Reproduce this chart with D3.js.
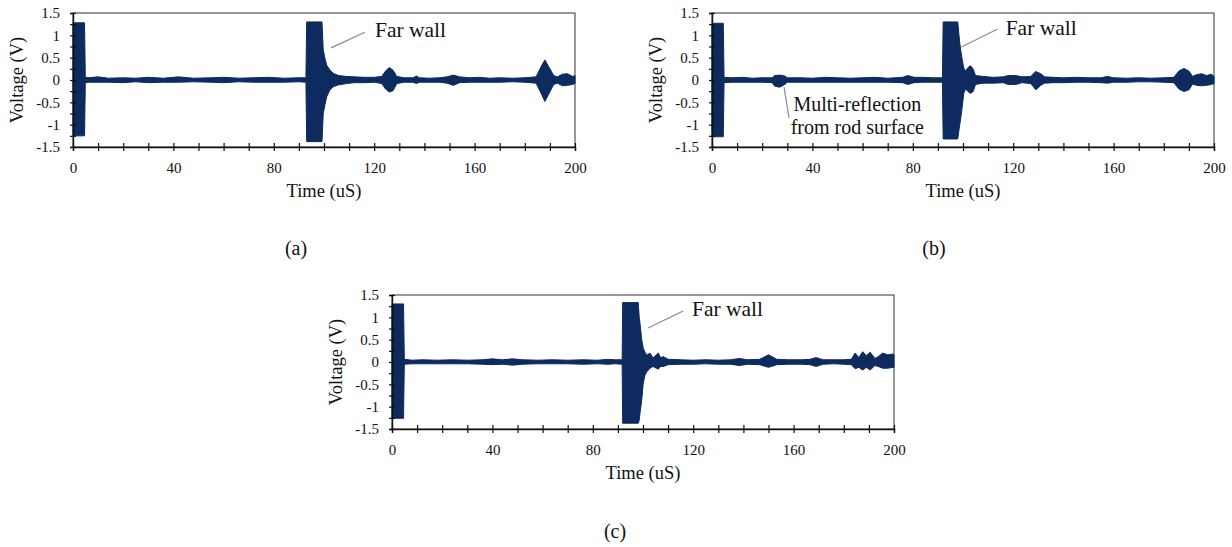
<!DOCTYPE html>
<html>
<head>
<meta charset="utf-8">
<script src="https://cdn.jsdelivr.net/npm/d3@7"></script>
<style>
  body { margin: 0; background: #fff; }
</style>
</head>
<body>
<svg id="fig" width="1232" height="547"></svg>
<script>
// envelope of each trace: time (uS), upper and lower voltage (V)
const timeA = [0, 4.6, 4.9, 6, 10, 14, 20, 25, 30, 36, 42, 48, 55, 60, 66, 72, 78, 84, 90, 92.8, 93.1, 99.2, 99.7, 100.4, 101.1, 102.4, 103.7, 105.7, 109, 112, 116, 120, 123, 124.5, 126, 127.5, 129, 132, 135.5, 136.8, 138, 142, 146, 149, 151.5, 154, 158, 162, 166, 170, 175, 180, 184.5, 186.5, 188, 189.5, 191.5, 193, 195, 197, 199, 200];
const upperA = [1.28, 1.28, 0.06, 0.05, 0.07, 0.04, 0.05, 0.04, 0.06, 0.04, 0.07, 0.04, 0.05, 0.06, 0.04, 0.05, 0.06, 0.04, 0.05, 0.05, 1.3, 1.3, 0.67, 0.48, 0.33, 0.22, 0.15, 0.1, 0.08, 0.07, 0.06, 0.06, 0.08, 0.2, 0.28, 0.22, 0.08, 0.05, 0.05, 0.09, 0.05, 0.04, 0.05, 0.07, 0.11, 0.07, 0.05, 0.06, 0.04, 0.05, 0.04, 0.05, 0.07, 0.3, 0.45, 0.3, 0.1, 0.07, 0.13, 0.14, 0.08, 0.1];
const lowerA = [-1.25, -1.25, -0.06, -0.05, -0.05, -0.05, -0.06, -0.04, -0.06, -0.05, -0.05, -0.04, -0.05, -0.06, -0.04, -0.05, -0.05, -0.05, -0.04, -0.05, -1.38, -1.38, -0.75, -0.55, -0.37, -0.22, -0.15, -0.11, -0.08, -0.06, -0.06, -0.05, -0.08, -0.2, -0.27, -0.24, -0.08, -0.05, -0.05, -0.08, -0.05, -0.05, -0.05, -0.07, -0.12, -0.06, -0.05, -0.05, -0.05, -0.05, -0.04, -0.05, -0.07, -0.3, -0.48, -0.32, -0.1, -0.07, -0.13, -0.12, -0.1, -0.08];

const timeB = [0, 4.5, 4.8, 8, 12, 16, 20, 24, 25, 27, 29, 30, 35, 40, 45, 50, 55, 60, 65, 70, 76, 78, 80.5, 84, 88, 91.8, 92.1, 97.9, 98.7, 99, 99.7, 100.3, 101, 102, 103, 104, 105, 108, 112, 116, 118, 121, 123.5, 127, 129, 131, 132.5, 136, 140, 145, 150, 155, 157.5, 160, 165, 170, 175, 180, 184, 186, 188, 190, 191.5, 193, 195, 197, 199, 200];
const upperB = [1.27, 1.27, 0.06, 0.05, 0.06, 0.04, 0.05, 0.05, 0.1, 0.11, 0.09, 0.05, 0.05, 0.04, 0.06, 0.05, 0.04, 0.05, 0.06, 0.04, 0.06, 0.1, 0.06, 0.06, 0.05, 0.05, 1.3, 1.3, 0.83, 0.7, 0.45, 0.27, 0.2, 0.28, 0.32, 0.25, 0.1, 0.08, 0.06, 0.07, 0.1, 0.1, 0.07, 0.08, 0.19, 0.14, 0.07, 0.06, 0.05, 0.06, 0.05, 0.05, 0.08, 0.05, 0.04, 0.05, 0.04, 0.05, 0.06, 0.2, 0.26, 0.2, 0.08, 0.12, 0.14, 0.1, 0.13, 0.08];
const lowerB = [-1.27, -1.27, -0.06, -0.05, -0.05, -0.05, -0.05, -0.06, -0.14, -0.16, -0.1, -0.05, -0.05, -0.05, -0.05, -0.05, -0.05, -0.05, -0.05, -0.05, -0.06, -0.1, -0.06, -0.05, -0.05, -0.05, -1.32, -1.32, -1.0, -0.9, -0.6, -0.3, -0.2, -0.26, -0.3, -0.26, -0.1, -0.07, -0.07, -0.06, -0.1, -0.1, -0.06, -0.08, -0.22, -0.12, -0.07, -0.06, -0.06, -0.05, -0.05, -0.06, -0.07, -0.05, -0.05, -0.04, -0.04, -0.05, -0.06, -0.2, -0.26, -0.22, -0.09, -0.12, -0.13, -0.12, -0.1, -0.08];

const timeC = [0, 4.6, 4.9, 8, 12, 18, 24, 30, 36, 40, 44, 48, 52, 58, 64, 70, 76, 82, 86, 89, 91.7, 91.9, 98.1, 98.5, 98.8, 99.5, 100.1, 100.8, 101.5, 102.8, 104, 106.1, 107, 108.1, 110, 115, 120, 125, 130, 135, 138.5, 141.5, 146.5, 150, 153.3, 158, 163, 166.5, 169, 171.7, 176, 180, 183, 184.5, 186, 187.5, 189, 190.5, 192.4, 193.7, 195.5, 197.5, 199.7, 200];
const upperC = [1.3, 1.3, 0.06, 0.04, 0.05, 0.04, 0.05, 0.04, 0.05, 0.07, 0.05, 0.07, 0.05, 0.04, 0.05, 0.04, 0.05, 0.04, 0.06, 0.05, 0.05, 1.33, 1.33, 1.0, 0.87, 0.49, 0.31, 0.22, 0.15, 0.2, 0.09, 0.2, 0.1, 0.12, 0.06, 0.05, 0.04, 0.05, 0.04, 0.05, 0.08, 0.05, 0.06, 0.16, 0.06, 0.05, 0.05, 0.06, 0.1, 0.05, 0.05, 0.05, 0.06, 0.2, 0.1, 0.23, 0.14, 0.22, 0.08, 0.12, 0.2, 0.16, 0.18, 0.15];
const lowerC = [-1.26, -1.26, -0.05, -0.04, -0.04, -0.04, -0.04, -0.04, -0.05, -0.06, -0.05, -0.07, -0.05, -0.04, -0.04, -0.04, -0.05, -0.04, -0.05, -0.04, -0.05, -1.37, -1.37, -1.3, -1.15, -0.85, -0.47, -0.29, -0.22, -0.14, -0.1, -0.16, -0.1, -0.1, -0.06, -0.05, -0.05, -0.04, -0.05, -0.05, -0.08, -0.05, -0.06, -0.12, -0.06, -0.05, -0.05, -0.06, -0.1, -0.05, -0.04, -0.05, -0.06, -0.15, -0.12, -0.18, -0.12, -0.18, -0.08, -0.1, -0.14, -0.14, -0.12, -0.12];

const xTicks = d3.range(0, 201, 10);       // labelled every 40
const yTicks = d3.range(-1.5, 1.51, 0.25); // labelled every 0.5
const panelLabels = ["(a)", "(b)", "(c)"];

const traceColor = "#0d2b5e";
const serif = "'Liberation Serif', 'Times New Roman', Times, serif";
const W = 502, H = 134;

const svg = d3.select("#fig");

function addText(sel, size) {
	return sel.append("text")
		.attr("font-family", serif)
		.style("font-family", serif)
		.style("font-size", size + "px")
		.attr("fill", "#111");
}

function drawPanel(left, top, time, upper, lower, label, labelPos, notes) {
	const g = svg.append("g").attr("transform", `translate(${left},${top})`);

	const x = d3.scaleLinear().domain([0, 200]).range([0, W]);
	const y = d3.scaleLinear().domain([-1.5, 1.5]).range([H, 0]);

	// frame
	g.append("rect")
		.attr("width", W).attr("height", H)
		.attr("fill", "none").attr("stroke", "#333").attr("stroke-width", 1);

	// trace envelope
	const area = d3.area()
		.x(i => x(time[i]))
		.y0(i => y(lower[i]))
		.y1(i => y(upper[i]));
	g.append("path")
		.datum(d3.range(time.length))
		.attr("d", area)
		.attr("fill", traceColor)
		.attr("stroke", traceColor)
		.attr("stroke-width", 1)
		.attr("stroke-linejoin", "round");

	// axes
	const xAxis = g.append("g")
		.attr("transform", `translate(0,${H})`)
		.call(d3.axisBottom(x).tickValues(xTicks).tickSize(4).tickPadding(11)
			.tickFormat(d => d % 40 === 0 ? d : ""));
	xAxis.selectAll(".tick line").attr("y1", -4);

	const yAxis = g.append("g")
		.call(d3.axisLeft(y).tickValues(yTicks).tickSize(3).tickPadding(10)
			.tickFormat(d => Math.abs(d * 2 - Math.round(d * 2)) < 1e-9 ? String(d) : ""));
	yAxis.selectAll(".tick line").attr("x1", 3);

	[xAxis, yAxis].forEach(a => {
		a.attr("font-family", serif);
		a.select(".domain").attr("stroke", "#111").attr("stroke-width", 1.4);
		a.selectAll(".tick line").attr("stroke", "#111").attr("stroke-width", 1.2);
		a.selectAll("text")
			.style("font-family", serif)
			.style("font-size", "15px")
			.attr("fill", "#111");
	});

	// axis titles
	addText(g, 18.5)
		.attr("x", W / 2).attr("y", H + 50)
		.attr("text-anchor", "middle")
		.text("Time (uS)");
	addText(g, 18.5)
		.attr("transform", `translate(-50,${H / 2}) rotate(-90)`)
		.attr("text-anchor", "middle")
		.text("Voltage (V)");

	// annotations
	notes.forEach(n => {
		g.append("line")
			.attr("x1", x(n.from[0])).attr("y1", y(n.from[1]))
			.attr("x2", x(n.to[0])).attr("y2", y(n.to[1]))
			.attr("stroke", "#8a8a8a").attr("stroke-width", 1.2);
		n.lines.forEach((t, k) => {
			addText(g, n.size)
				.attr("x", x(n.at[0])).attr("y", y(n.at[1]) + k * 23)
				.attr("text-anchor", n.anchor)
				.attr("dominant-baseline", "middle")
				.text(t);
		});
	});

	addText(svg, 20)
		.attr("x", labelPos[0]).attr("y", labelPos[1])
		.attr("text-anchor", "middle")
		.attr("dominant-baseline", "middle")
		.text(label);
}

drawPanel(73, 13, timeA, upperA, lowerA, panelLabels[0], [296, 250], [
	{from: [102.8, 0.72], to: [116.3, 1.07], at: [120.3, 1.07], anchor: "start", size: 21.5, lines: ["Far wall"]}
]);
drawPanel(712, 13, timeB, upperB, lowerB, panelLabels[1], [934, 250], [
	{from: [99.4, 0.74], to: [113.8, 1.14], at: [117, 1.12], anchor: "start", size: 21.5, lines: ["Far wall"]},
	{from: [28.7, -0.16], to: [30.7, -0.85], at: [57.9, -0.6], anchor: "middle", size: 20, lines: ["Multi-reflection", "from rod surface"]}
]);
drawPanel(392, 295, timeC, upperC, lowerC, panelLabels[2], [615, 533], [
	{from: [102, 0.76], to: [116, 1.14], at: [119.5, 1.14], anchor: "start", size: 21.5, lines: ["Far wall"]}
]);
</script>
</body>
</html>
